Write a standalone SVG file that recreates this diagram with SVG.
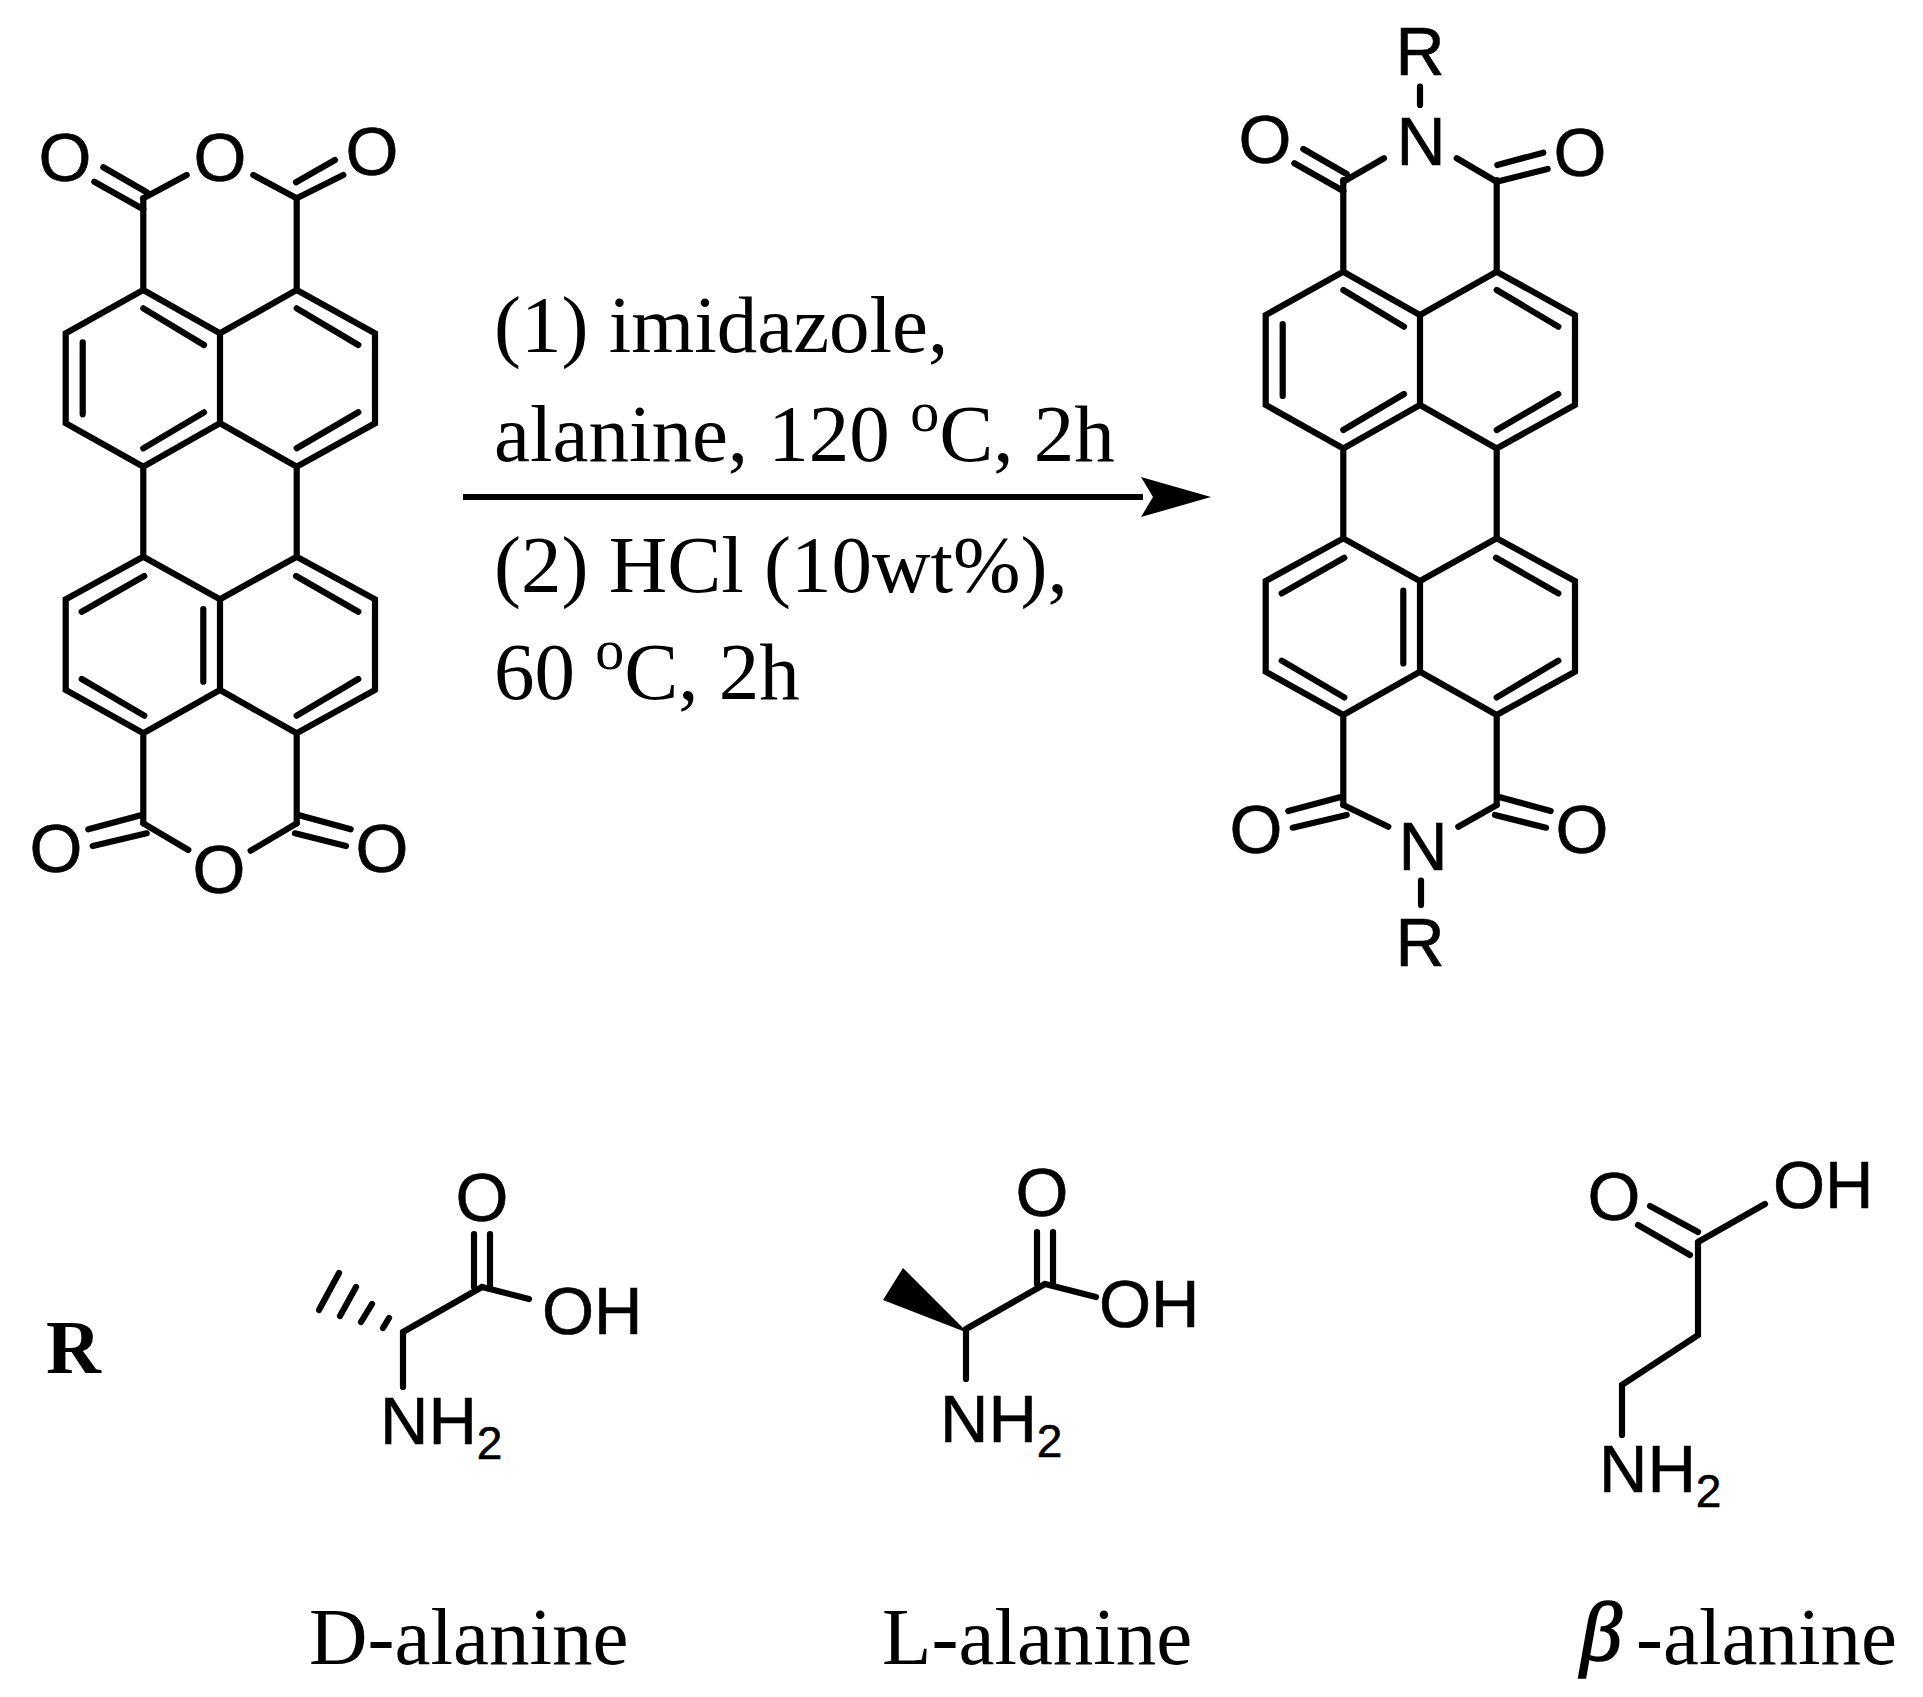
<svg xmlns="http://www.w3.org/2000/svg" xmlns:xlink="http://www.w3.org/1999/xlink" width="1923" height="1697" viewBox="0 0 1923 1697">
<style>
.b{fill:none;stroke:#000;stroke-width:6.2;stroke-linecap:round;stroke-linejoin:miter}
.a{font-family:"Liberation Sans",Arial,sans-serif;font-size:68px;fill:#000;stroke:#000;stroke-width:.6;text-anchor:middle}
.l{font-family:"Liberation Sans",Arial,sans-serif;font-size:67px;fill:#000;stroke:#000;stroke-width:.6}
.s{font-size:46px}
.t{font-family:"Liberation Serif","Times New Roman",serif;font-size:81px;fill:#000}
</style>
<defs>
<path id="core" class="b" d="M143.3 198.3V290L65.7 333.3V423.3L143.3 466.7L220 423.3V333.3L143.3 290M220 333.3L296.7 290V198.3M296.7 290L375 333.3V423.3L296.7 466.7L220 423.3M143.3 466.7V556.7M296.7 466.7V556.7M143.3 556.7L65.7 599.3V690L143.3 733.3L220 690V599.3L143.3 556.7M220 599.3L296.7 556.7L375 599.3V690L296.7 733.3L220 690M143.3 733.3V823.3M296.7 733.3V823.3M143.3 308.3L204 345M296.7 308.3L358.3 345M82.7 342.3V414.3M143.3 448.3L204 412.3M296.7 448.3L358.3 412.3M81.7 611.7L144.3 576M296 576L358.3 611.7M203.3 609V681.7M81.7 679L144.3 715.7M358.3 679L296.7 715.7"/>
<marker id="head" markerUnits="userSpaceOnUse" markerWidth="72" markerHeight="44" refX="2" refY="22" orient="auto"><path d="M0 2L70 22L0 42L12 22Z" fill="#000"/></marker>
</defs>
<g id="connectors"><path id="reaction-arrow" d="M463 497H1143" fill="none" stroke="#000" stroke-width="6" marker-end="url(#head)"/></g>
<g id="dianhydride"><use href="#core" xlink:href="#core"/>
<path class="b" d="M143.3 198.3L186.7 175M296.7 198.3L253.3 175M103.3 167.3L146.7 192.3M94.3 181.7L143.3 209.3M296 182.3L335 160M296.7 198.3L343.3 175M143.3 823.3L188.3 850M296.7 823.3L250.7 850.7M88.3 829.3L141.7 815M92.7 846L146.7 833.3M298.3 815L350.7 829.3M295 833.3L346 846"/>
<text class="a" x="65" y="181">O</text><text class="a" x="220" y="181">O</text><text class="a" x="372" y="175">O</text><text class="a" x="56" y="872">O</text><text class="a" x="219" y="893">O</text><text class="a" x="382" y="872">O</text></g>
<g id="diimide"><use href="#core" xlink:href="#core" transform="translate(1200 -18.3)"/>
<path class="b" d="M1343.3 181.7L1384 158.3M1496.7 181.7L1456.7 158.3M1420 86.7V105M1303.3 149L1346.7 174M1294.3 163.3L1343.3 191M1497.3 165L1543.3 152.7M1496.7 181.7L1547.7 169M1343.3 805L1388.3 826.7M1496.7 805L1458.3 826.7M1421 880.7V905M1288.3 811L1341.7 796.7M1292.7 827.7L1346.7 815M1498.3 796.7L1550.7 811M1495 815L1546 827.7"/>
<text class="a" x="1420" y="75">R</text><text class="a" x="1421" y="165">N</text><text class="a" x="1265" y="163">O</text><text class="a" x="1580" y="176">O</text><text class="a" x="1256" y="853">O</text><text class="a" x="1582" y="853">O</text><text class="a" x="1423" y="870">N</text><text class="a" x="1420" y="966">R</text></g>
<g id="conditions"><text class="t" x="494" y="352">(1) imidazole,</text>
<text class="t" x="494" y="461">alanine, 120 <tspan font-size="58" dy="-30">o</tspan><tspan dy="30">C, 2h</tspan></text>
<text class="t" x="494" y="592">(2) HCl (10wt%),</text>
<text class="t" x="494" y="699">60 <tspan font-size="58" dy="-30">o</tspan><tspan dy="30">C, 2h</tspan></text></g>
<g id="r-label"><text x="46" y="1373" font-family="'Liberation Serif','Times New Roman',serif" font-size="76" font-weight="bold">R</text></g>
<g id="d-alanine"><path class="b" d="M403 1332L482 1287M474 1287V1234M490 1287V1234M482 1287L529 1299M403 1332V1387M389 1318L383 1328M372 1304L361 1322M356 1287L340 1316M339 1273L319 1310"/>
<text class="a" x="482" y="1221">O</text><text class="l" x="542" y="1334">OH</text><text class="l" x="380" y="1444">NH<tspan class="s" dy="15">2</tspan></text><text class="t" x="309" y="1664">D-alanine</text></g>
<g id="l-alanine"><path class="b" d="M966 1329L1045 1284M1037 1284V1232M1053 1284V1232M1045 1284L1096 1297M966 1329V1379"/><path d="M968 1333L903 1268L883 1300Z"/>
<text class="a" x="1042" y="1216">O</text><text class="l" x="1099" y="1327">OH</text><text class="l" x="940" y="1442">NH<tspan class="s" dy="15">2</tspan></text><text class="t" x="882" y="1664">L-alanine</text></g>
<g id="beta-alanine"><path class="b" d="M1698 1242V1335L1622 1385V1435M1698 1242L1765 1204M1650 1206L1698 1232M1638 1225L1690 1255"/>
<text class="a" x="1614" y="1220">O</text><text class="l" x="1773" y="1208">OH</text><text class="l" x="1599" y="1492">NH<tspan class="s" dy="15">2</tspan></text><text class="t" x="1580" y="1660"><tspan font-style="italic" font-size="84" stroke="#000" stroke-width="1.6">β</tspan><tspan x="1636" dy="4">-alanine</tspan></text></g>
</svg>
